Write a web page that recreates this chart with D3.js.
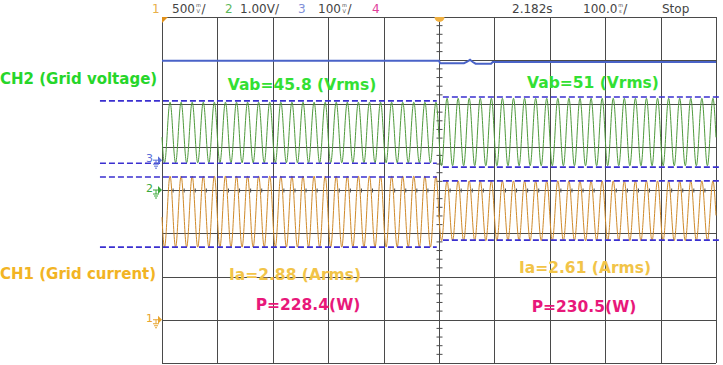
<!DOCTYPE html>
<html>
<head>
<meta charset="utf-8">
<script src="https://cdn.jsdelivr.net/npm/d3@7"></script>
<style>
  body { margin: 0; background: #fff; }
  svg { display: block; }
</style>
</head>
<body>
<svg id="chart" width="723" height="365"></svg>
<script>
// scope settings
const timeSpan = [0, 1]            // s, 100 ms/div x 10 div
const divRange = [-4, 4]           // vertical divisions
const lineFreq = 50                // Hz
const stepTime = 0.5               // s, where the load changes

// header
const chanNums = ['1', '2', '3', '4']
const chanScales = [['500', 'm', 'V'], ['1.00V/'], ['100', 'm', 'V'], ['']]
const trigTime = '2.182s'
const timeScaleTxt = ['100.0', 'm', 's']
const runState = 'Stop'

// per segment (before / after the step)
const segStart = [0, 0.5]
const segEnd = [0.5, 1]
const ch2Center = [1.33, 1.34]     // div
const ch2Amp = [0.70, 0.78]        // div
const ch1Center = [-0.50, -0.48]   // div
const ch1Amp = [0.82, 0.69]        // div
const peakTime = 0.0145            // s, first crest

// CH3 trace (t, div)
const ch3Trace = [[0, 2.99], [0.5, 2.99], [0.502, 2.93], [0.545, 2.93], [0.55, 2.96],
  [0.556, 3.01], [0.561, 2.96], [0.566, 2.92], [0.594, 2.92], [0.597, 2.96], [1, 2.96]]

// hand-drawn envelope lines (div), left and right of the step
const envLeft = [2.06, 0.62, 0.30, -1.32]
const envRight = [2.15, 0.53, 0.21, -1.16]
const envLeftSpan = [-0.112, 0.496]
const envRightSpan = [0.507, 1.01]

// annotations
const vabRms = [45.8, 51]
const iaRms = [2.88, 2.61]
const powerW = [228.4, 230.5]

const svg = d3.select('#chart')
const pl = 162, pr = 716, pt = 17, pb = 363

const x = d3.scaleLinear().domain(timeSpan).range([pl, pr])
const y = d3.scaleLinear().domain(divRange).range([pb, pt])

// ---- grid ----
const grid = svg.append('g').attr('stroke', '#4a4a4a').attr('stroke-width', 1)
grid.selectAll('.vx')
  .data(d3.range(0, 11).map(i => i / 10))
  .join('line')
  .attr('x1', d => Math.round(x(d)) + 0.5).attr('x2', d => Math.round(x(d)) + 0.5)
  .attr('y1', pt).attr('y2', pb)
grid.selectAll('.hy')
  .data(d3.range(-4, 5))
  .join('line')
  .attr('y1', d => Math.round(y(d)) + 0.5).attr('y2', d => Math.round(y(d)) + 0.5)
  .attr('x1', pl).attr('x2', pr)

// minor ticks on the centre axes
const cx = Math.round(x(stepTime)) + 0.5, cy = Math.round(y(0)) + 0.5
grid.selectAll('.mt')
  .data(d3.range(-20, 21).filter(i => i % 5 !== 0).map(i => i / 5))
  .join('line')
  .attr('x1', cx - 3).attr('x2', cx + 3)
  .attr('y1', d => y(d)).attr('y2', d => y(d))
grid.selectAll('.mh')
  .data(d3.range(0, 51).filter(i => i % 5 !== 0).map(i => i / 50))
  .join('line')
  .attr('x1', d => x(d)).attr('x2', d => x(d))
  .attr('y1', cy - 2).attr('y2', cy + 2)

// ---- traces ----
function wave (center, amp) {
  const pts = []
  segStart.forEach((s, k) => {
    for (let t = s; t <= segEnd[k] + 1e-9; t += 0.0004) {
      pts.push([t, center[k] + amp[k] * Math.cos(2 * Math.PI * lineFreq * (t - peakTime))])
    }
  })
  return pts
}
const line = d3.line().x(d => x(d[0])).y(d => y(d[1]))

svg.append('path')
  .attr('d', line(wave(ch2Center, ch2Amp)))
  .attr('fill', 'none').attr('stroke', '#4f9a3c').attr('stroke-width', 1)
svg.append('path')
  .attr('d', line(wave(ch1Center, ch1Amp)))
  .attr('fill', 'none').attr('stroke', '#cf8a2a').attr('stroke-width', 1)
svg.append('path')
  .attr('d', line(ch3Trace))
  .attr('fill', 'none').attr('stroke', '#4a63c8').attr('stroke-width', 2)

// envelope dashes
const dash = svg.append('g').attr('stroke', '#3a2fd0').attr('stroke-width', 1.6)
  .attr('stroke-dasharray', '6,3')
dash.selectAll('.el').data(envLeft).join('line')
  .attr('x1', x(envLeftSpan[0])).attr('x2', x(envLeftSpan[1]))
  .attr('y1', d => y(d)).attr('y2', d => y(d))
dash.selectAll('.er').data(envRight).join('line')
  .attr('x1', x(envRightSpan[0])).attr('x2', x(envRightSpan[1]))
  .attr('y1', d => y(d)).attr('y2', d => y(d))

// ---- markers ----
svg.append('path')
  .attr('d', `M${pl},${pt} l6,0 l-6,6 z`).attr('fill', '#e0901a')
svg.append('path')
  .attr('d', `M${cx - 5},${pt} a5,5 0 0 0 10,0 z`).attr('fill', '#f0b040')

function gndMarker (num, level, color) {
  const g = svg.append('g').attr('transform', `translate(${pl - 16},${y(level)})`)
  g.append('text').attr('x', 0).attr('y', 2).attr('fill', color)
    .style('font', '11px "DejaVu Sans"').text(num)
  g.append('path').attr('d', 'M7,0 h6 M10,0 v4 M7,4 h6 M8,6 h4 M9,8 h2')
    .attr('stroke', color).attr('stroke-width', 1).attr('fill', 'none')
  g.append('path').attr('d', 'M12,-4 l4,4 l-4,4 z').attr('fill', color)
}
gndMarker('3', 0.69, '#5a6fd8')
gndMarker('2', 0, '#3aa83a')
gndMarker('1', -3, '#e8a530')

// ---- header ----
const hdr = svg.append('g').style('font', '12px "DejaVu Sans"')
const chanColors = ['#e8b04a', '#5cb85c', '#7f8fd8', '#e0409a']
const chanX = [152, 225, 298, 372]
const scaleX = [172, 240, 318]

// number followed by a tiny stacked unit (scope style)
function stacked (g, xPos, parts, color) {
  const t = g.append('text').attr('x', xPos).attr('y', 13).attr('fill', color)
  t.append('tspan').text(parts[0])
  if (parts.length > 1) {
    t.append('tspan').attr('dx', 1).attr('dy', -6).style('font-size', '5px').text(parts[1])
    t.append('tspan').attr('dx', -4.2).attr('dy', 6).style('font-size', '5px').text(parts[2])
    t.append('tspan').attr('dx', 1.5).text('/')
  }
}
chanNums.forEach((n, i) => {
  hdr.append('text').attr('x', chanX[i]).attr('y', 13).attr('fill', chanColors[i]).text(n)
  if (chanScales[i][0]) stacked(hdr, scaleX[i], chanScales[i], '#444')
})
hdr.append('text').attr('x', 512).attr('y', 13).attr('fill', '#444').text(trigTime)
stacked(hdr, 583, timeScaleTxt, '#444')
hdr.append('text').attr('x', 662).attr('y', 13).attr('fill', '#444').text(runState)

// ---- annotations ----
const ann = svg.append('g')
  .style('font-family', '"DejaVu Sans", Verdana, sans-serif')
  .style('font-weight', 'bold')
ann.append('text').attr('x', 0).attr('y', 83.5).attr('fill', '#26d62a')
  .style('font-size', '15px').text('CH2 (Grid voltage)')
ann.append('text').attr('x', 0).attr('y', 279).attr('fill', '#f2b424')
  .style('font-size', '15px').text('CH1 (Grid current)')

const vabX = [302, 593], vabY = [90, 88]
const iaX = [295, 585], iaY = [280, 273]
const pX = [308, 584], pY = [310, 312]
vabRms.forEach((v, i) => {
  ann.append('text').attr('x', vabX[i]).attr('y', vabY[i]).attr('text-anchor', 'middle')
    .attr('fill', '#33e033').style('font-size', '15.5px').text(`Vab=${v} (Vrms)`)
})
iaRms.forEach((v, i) => {
  ann.append('text').attr('x', iaX[i]).attr('y', iaY[i]).attr('text-anchor', 'middle')
    .attr('fill', '#f2c448').style('font-size', '15.5px').text(`Ia=${v} (Arms)`)
})
powerW.forEach((v, i) => {
  ann.append('text').attr('x', pX[i]).attr('y', pY[i]).attr('text-anchor', 'middle')
    .attr('fill', '#e8187a').style('font-size', '15.5px').text(`P=${v}(W)`)
})
</script>
</body>
</html>
